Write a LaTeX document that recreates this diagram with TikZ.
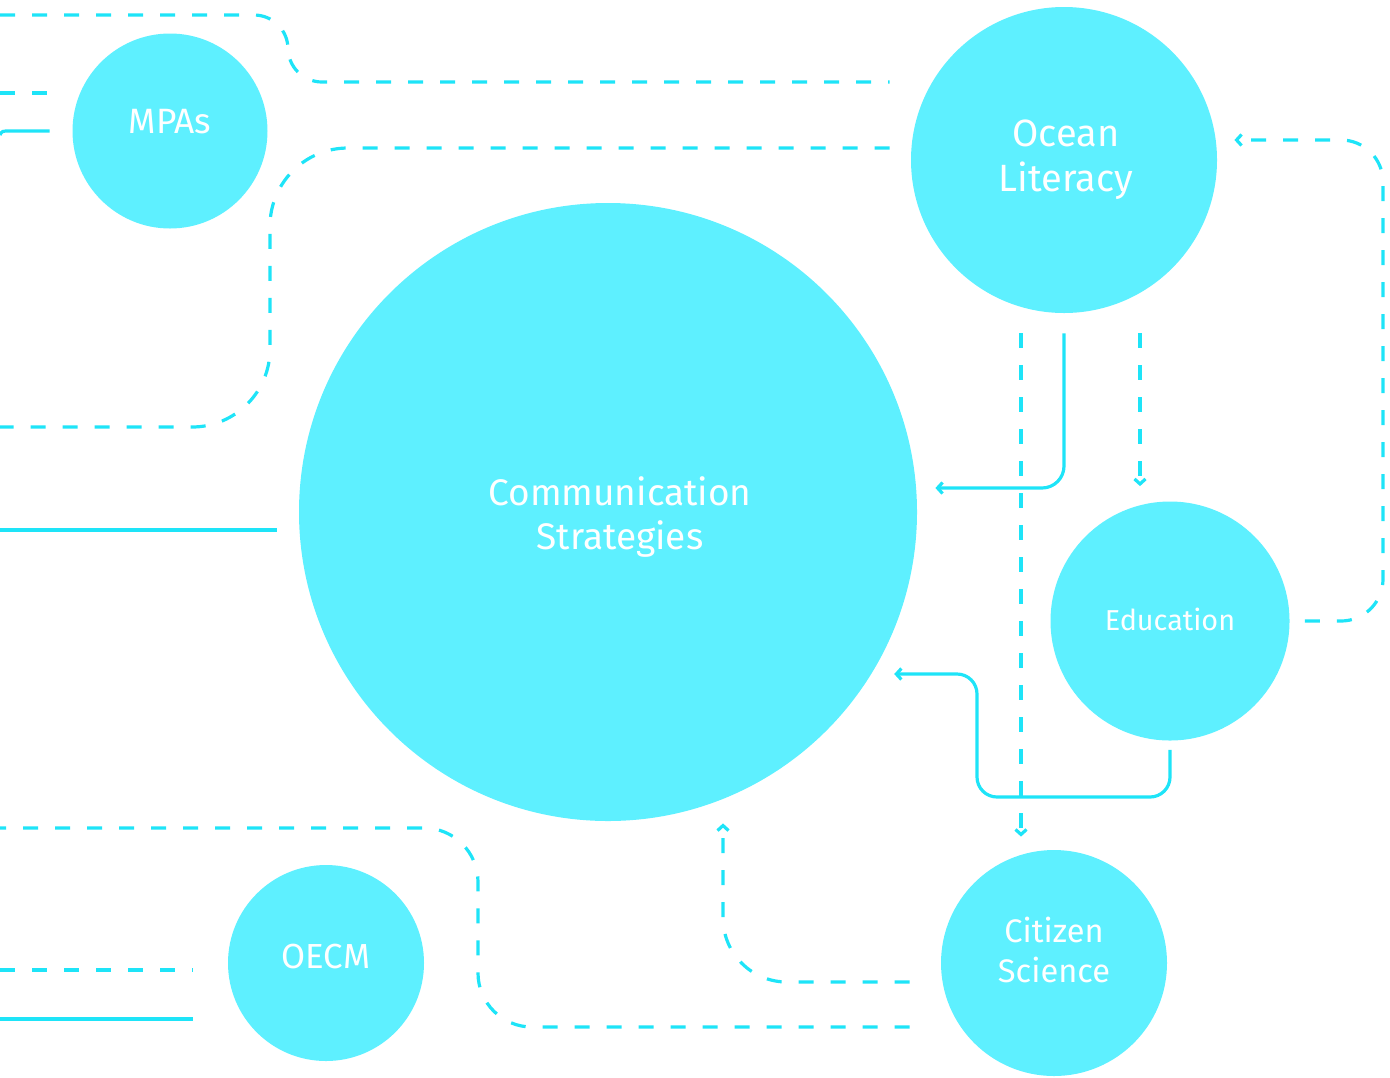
\documentclass[tikz,border=0pt]{standalone}
\usepackage{fontspec}
\setmainfont{Fira Sans}
\usetikzlibrary{arrows.meta}
\definecolor{bubble}{RGB}{94,240,255}
\definecolor{wire}{RGB}{30,228,248}
\begin{document}
\begin{tikzpicture}[x=0.5pt,y=-0.5pt,
  bubble/.style={circle,fill=bubble,inner sep=0pt},
  txt/.style={text=white,align=center},
  sline/.style={draw=wire,line width=1.6pt},
  dline/.style={sline,dash pattern=on 7.5pt off 8.5pt},
  >={Straight Barb[length=2.5pt,width=5.5pt]}]
\useasboundingbox (0,0) rectangle (1390,1077);
\node[bubble,minimum size=97.5pt] (mpa) at (170,131) {};
\node[bubble,minimum size=153pt] (ol) at (1064,160) {};
\node[bubble,minimum size=309pt] (cs) at (608,512) {};
\node[bubble,minimum size=119.5pt] (edu) at (1170,621) {};
\node[bubble,minimum size=113pt] (cit) at (1054,963) {};
\node[bubble,minimum size=98pt] (oecm) at (326,963) {};
\node[txt,font=\fontsize{17.6}{20}\selectfont] (mpaT) at (170,122) {MPAs};
\node[txt,font=\fontsize{19}{22.5}\selectfont] (olT) at (1066,160) {Ocean\\Literacy};
\node[txt,font=\fontsize{18.5}{22}\selectfont] (csT) at (620,517) {Communication\\Strategies};
\node[txt,font=\fontsize{14.4}{20}\selectfont] (eduT) at (1170,619) {Education};
\node[txt,font=\fontsize{16.3}{20}\selectfont] (citT) at (1054,950) {Citizen\\Science};
\node[txt,font=\fontsize{17.4}{20}\selectfont] (oecmT) at (326,956) {OECM};
\coordinate (inA) at (0,15);
\coordinate (inB) at (0,93);
\coordinate (inC) at (0,135);
\coordinate (outD) at (0,427);
\coordinate (inE) at (0,530);
\coordinate (outL) at (0,828);
\coordinate (inM) at (0,970);
\coordinate (inN) at (0,1019);
\draw[dline,rounded corners=17pt,shorten >=10.5pt] (inA) -- (288,15) -- (288,82) -- (ol.west |- 0,82);
\draw[dline,shorten >=11.25pt] (inB) -- (mpa.west |- inB);
\draw[sline,shorten >=11.25pt] (inC) .. controls (2,131) .. (10,131) -- (mpa.west);
\draw[dline,rounded corners=39pt,shorten <=10.5pt] (ol.west |- 0,148) -- (270,148) -- (270,427) -- (outD);
\draw[sline,shorten >=11pt] (inE) -- (cs.west |- inE);
\draw[sline,->,rounded corners=11pt,shorten <=10pt,shorten >=9pt] (ol.south) -- (ol.south |- 0,488) -- (cs.east |- 0,488);
\draw[dline,->,shorten <=10pt,shorten >=6.5pt] (ol.south -| 1021,0) -- (cit.north -| 1021,0);
\draw[dline,->,shorten <=10pt,shorten >=7.5pt] (ol.south -| 1140,0) -- (edu.north -| 1140,0);
\draw[dline,->,rounded corners=21pt,shorten <=7.5pt,shorten >=8.5pt] (edu.east) -- (1383,621) -- (1383,140) -- (ol.east |- 0,140);
\draw[sline,->,rounded corners=10pt,shorten <=4.5pt,shorten >=10.5pt] (edu.south) -- (edu.south |- 0,797) -- (977,797) -- (977,674) -- (cs.-31.6 |- 0,674);
\draw[dline,->,rounded corners=32pt,shorten <=15.5pt,shorten >=1pt] (cit.west |- 0,982) -- (723,982) -- (cs.south -| 723,0);
\draw[dline,rounded corners=27pt,shorten <=15.5pt] (cit.west |- 0,1027) -- (478,1027) -- (478,828) -- (outL);
\draw[dline,shorten >=17.5pt] (inM) -- (oecm.west |- inM);
\draw[sline,shorten >=17.5pt] (inN) -- (oecm.west |- inN);
\end{tikzpicture}
\end{document}
